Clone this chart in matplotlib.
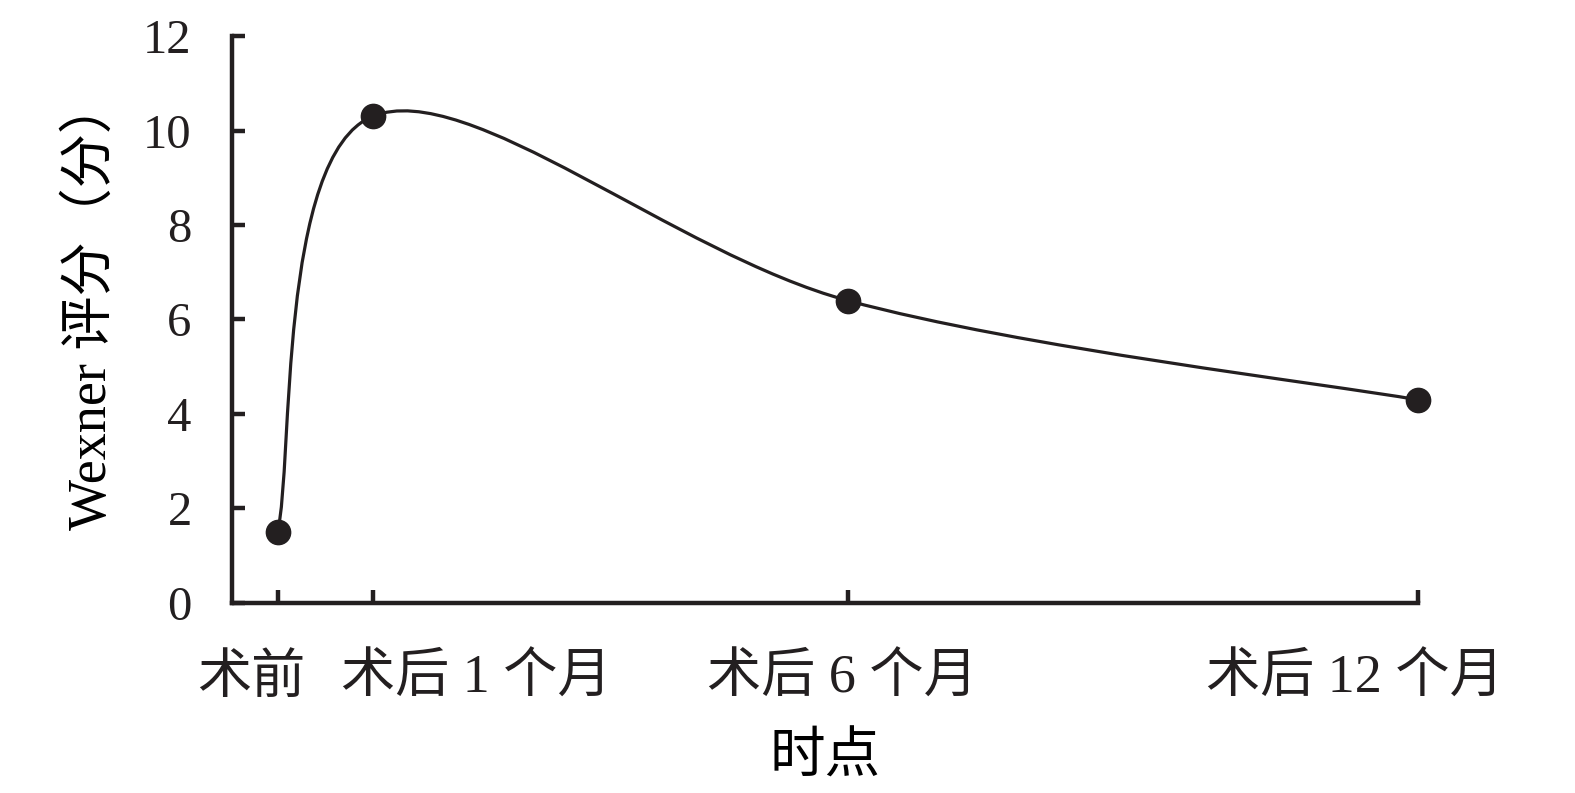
import matplotlib
matplotlib.use('Agg')
import matplotlib.pyplot as plt
import matplotlib.transforms as mtransforms
from matplotlib.path import Path
from matplotlib.patches import PathPatch
import numpy as np

# Daten
months = [0, 1, 6, 12]
scores = [1.5, 10.3, 6.4, 4.3]
tick_labels = ['术前', '术后 1 个月', '术后 6 个月', '术后 12 个月']
# horizontale Verschiebung der Beschriftungen (Pixel), wie im Original
label_shift_px = [-26, 104, -5, -63]

INK = '#231f20'
plt.rcParams['font.family'] = ['Liberation Serif', 'Noto Sans CJK SC']
plt.rcParams['text.color'] = INK

fig = plt.figure(figsize=(15.75, 7.93), dpi=100)
ax = fig.add_axes([0.1473, 0.2396, 0.9003 - 0.1473, 0.9546 - 0.2396])
ax.set_xlim(-0.48, 12)
ax.set_ylim(0, 12)

# geglättete Linie (Excel-artige Bezier-Glättung im Pixelraum)
pts = ax.transData.transform(np.column_stack([months, scores]))
verts = [pts[0]]
codes = [Path.MOVETO]
n = len(pts)
for i in range(n - 1):
    p0 = pts[i - 1] if i > 0 else pts[i]
    p1 = pts[i]
    p2 = pts[i + 1]
    p3 = pts[i + 2] if i + 2 < n else pts[i + 1]
    c1 = p1 + (p2 - p0) / 6.0
    c2 = p2 - (p3 - p1) / 6.0
    verts += [c1, c2, p2]
    codes += [Path.CURVE4] * 3
path = Path(ax.transData.inverted().transform(np.array(verts)), codes)
ax.add_patch(PathPatch(path, facecolor='none', edgecolor=INK, lw=2.3,
                       transform=ax.transData, zorder=2, clip_on=False))
ax.plot(months, scores, 'o', color=INK, markersize=17.5, zorder=3, clip_on=False)

# Achsen
for s in ['top', 'right']:
    ax.spines[s].set_visible(False)
for s in ['left', 'bottom']:
    ax.spines[s].set_linewidth(3.2)
    ax.spines[s].set_color(INK)

ax.set_yticks([0, 2, 4, 6, 8, 10, 12])
ax.tick_params(axis='y', direction='in', length=9.5, width=3.2, color=INK,
               labelsize=35, pad=29, labelcolor=INK)
ax.set_xticks(months, labels=tick_labels)
ax.tick_params(axis='x', direction='in', length=9.5, width=3.2, color=INK,
               labelsize=39, pad=37, labelcolor=INK)
for lab, dx in zip(ax.get_xticklabels(), label_shift_px):
    lab.set_transform(lab.get_transform() +
                      mtransforms.ScaledTranslation(dx / 100, 0, fig.dpi_scale_trans))

ax.set_ylabel('Wexner 评分（分）', fontsize=39)
ax.yaxis.set_label_coords(-0.096, 0.526)
ax.set_xlabel('时点', fontsize=40)
ax.xaxis.set_label_coords(0.5, -0.229)

fig.savefig('out.png', dpi=100)
